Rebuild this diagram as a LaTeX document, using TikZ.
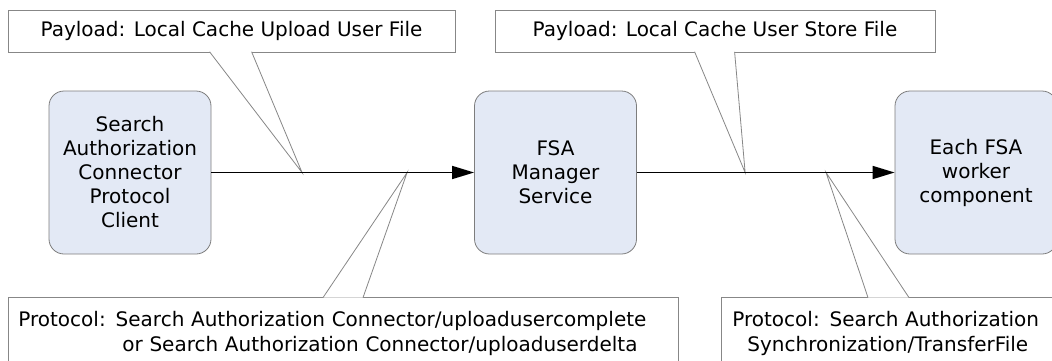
\documentclass[tikz,border=0pt]{standalone}
\usepackage{fontspec}
\setmainfont{DejaVu Sans}
\usetikzlibrary{arrows.meta,calc}
\definecolor{boxfill}{RGB}{227,233,245}
\definecolor{boxline}{RGB}{125,125,125}
\definecolor{noteline}{RGB}{135,135,135}
\tikzset{
  procbox/.style={draw=boxline, fill=boxfill, line width=0.8pt, rounded corners=15pt,
    minimum width=162pt, minimum height=163pt, inner sep=0pt, align=center,
    font=\fontsize{20}{24}\selectfont},
  notebox/.style={draw=noteline, fill=white, line width=0.8pt, inner sep=0pt,
    font=\fontsize{20}{25}\selectfont},
  tail/.style={draw=noteline, line width=0.8pt},
  flow/.style={-{Triangle[length=22pt,width=13pt]}, line width=1.6pt}
}
\begin{document}
\begin{tikzpicture}[x=1pt,y=-1pt]
\useasboundingbox (0,0) rectangle (1052,360);
\clip (0,0) rectangle (1052,360);

\node[procbox] (client)  at (130,172.5) {Search\\Authorization\\Connector\\Protocol\\Client};
\node[procbox] (manager) at (555.5,172.5) {FSA\\Manager\\Service};
\node[procbox] (worker)  at (976,172.5) {Each FSA\\worker\\component};

\coordinate (pay1)  at ($(client.east)!0.345!(manager.west)$);
\coordinate (prot1) at ($(client.east)!0.745!(manager.west)$);
\coordinate (pay2)  at ($(manager.east)!0.42!(worker.west)$);
\coordinate (prot2) at ($(manager.east)!0.734!(worker.west)$);

\node[notebox, minimum width=447pt, minimum height=42pt] (upload) at (231.5,31)
  {Payload: Local Cache Upload User File};
\node[notebox, minimum width=440pt, minimum height=42pt] (store) at (715,31)
  {Payload: Local Cache User Store File};
\node[notebox, anchor=north west, text width=650pt, inner xsep=10pt, align=left,
  minimum height=72pt] (uploadproto) at (8,297)
  {Protocol: Search Authorization Connector/uploadusercomplete\\
   \hspace*{5.2em}or Search Authorization Connector/uploaduserdelta};
\node[notebox, anchor=north west, text width=340pt, inner xsep=11pt, align=left,
  minimum height=72pt] (syncproto) at (721,297)
  {Protocol: Search Authorization\\
   \hspace*{0.75em}Synchronization/TransferFile};

\fill[white] ($(upload.south west)+(202,-0.6)$) -- (pay1) -- ($(upload.south west)+(244,-0.6)$) -- cycle;
\draw[tail]  ($(upload.south west)+(202,-0.6)$) -- (pay1) -- ($(upload.south west)+(244,-0.6)$);
\fill[white] ($(store.south west)+(200,-0.6)$) -- (pay2) -- ($(store.south west)+(240,-0.6)$) -- cycle;
\draw[tail]  ($(store.south west)+(200,-0.6)$) -- (pay2) -- ($(store.south west)+(240,-0.6)$);
\fill[white] ($(uploadproto.north west)+(315,0.6)$) -- (prot1) -- ($(uploadproto.north west)+(355,0.6)$) -- cycle;
\draw[tail]  ($(uploadproto.north west)+(315,0.6)$) -- (prot1) -- ($(uploadproto.north west)+(355,0.6)$);
\fill[white] ($(syncproto.north west)+(147,0.6)$) -- (prot2) -- ($(syncproto.north west)+(188,0.6)$) -- cycle;
\draw[tail]  ($(syncproto.north west)+(147,0.6)$) -- (prot2) -- ($(syncproto.north west)+(188,0.6)$);

\draw[flow] (client) -- (manager);
\draw[flow] (manager) -- (worker);
\end{tikzpicture}
\end{document}
